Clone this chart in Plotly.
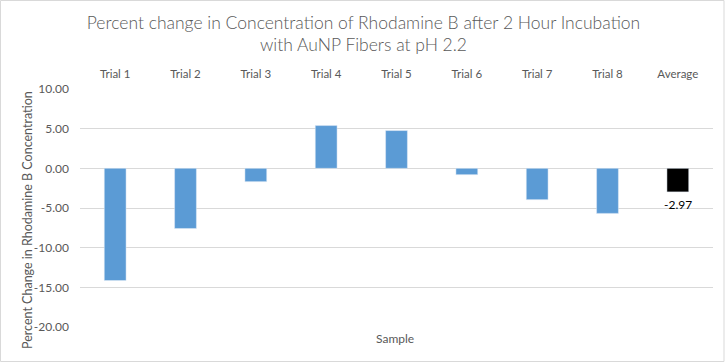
import plotly.graph_objects as go

categories = ["Trial 1", "Trial 2", "Trial 3", "Trial 4", "Trial 5", "Trial 6", "Trial 7", "Trial 8"]
trial_values = [-14.14, -7.58, -1.68, 5.39, 4.76, -0.80, -3.95, -5.68]
avg_category = ["Average"]
avg_value = [-2.97]
avg_label = ["-2.97"]
y_ticks = [10, 5, 0, -5, -10, -15, -20]
y_tick_text = ["10.00", "5.00", "0.00", "-5.00", "-10.00", "-15.00", "-20.00"]

FONT = "Lato"
GRAY = "#595959"

fig = go.Figure()
fig.add_trace(go.Bar(x=categories, y=trial_values, marker_color="#5b9bd5", width=0.31,
                     showlegend=False, hoverinfo="x+y"))
fig.add_trace(go.Bar(x=avg_category, y=avg_value, marker_color="#000000", width=0.31,
                     showlegend=False, hoverinfo="x+y"))

fig.update_layout(
    width=727, height=362,
    margin=dict(l=80, r=14, t=89, b=35, autoexpand=False),
    paper_bgcolor="white", plot_bgcolor="white",
    font=dict(family=FONT, color=GRAY, size=12),
    title=dict(text="Percent change in Concentration of Rhodamine B after 2 Hour Incubation<br>with AuNP Fibers at pH 2.2",
               x=0.5, xanchor="center", xref="container", y=1 - 28.5 / 362, yanchor="middle", yref="container",
               font=dict(family=FONT, size=17.5, color=GRAY, weight=300)),
    bargap=0.69,
    xaxis=dict(side="top", categoryorder="array", categoryarray=categories + avg_category,
               showgrid=False, showline=False, ticks="", automargin=False, ticklabelstandoff=8,
               tickfont=dict(size=11.5, color=GRAY)),
    yaxis=dict(range=[-20, 10], tickvals=y_ticks, ticktext=y_tick_text, showgrid=True,
               gridcolor="#d9d9d9", gridwidth=1, zeroline=False, showline=False, ticks="",
               automargin=False, ticklabelstandoff=10, tickfont=dict(size=12, color=GRAY)),
    annotations=[
        dict(text="Percent Change in Rhodamine B Concentration", textangle=-90,
             xref="paper", yref="paper", x=-53 / 633, y=(327 - 220) / 238,
             xanchor="center", yanchor="middle", showarrow=False,
             font=dict(family=FONT, size=12.5, color=GRAY)),
        dict(text="Sample", xref="paper", yref="paper", x=(395 - 80) / 633, y=(327 - 338) / 238,
             xanchor="center", yanchor="middle", showarrow=False,
             font=dict(family=FONT, size=12, color=GRAY)),
        dict(text=avg_label[0], x=avg_category[0], y=avg_value[0], xref="x", yref="y",
             yanchor="middle", yshift=-13, showarrow=False,
             font=dict(family=FONT, size=12, color="#000000")),
    ],
    shapes=[dict(type="rect", xref="paper", yref="paper", x0=-79.5 / 633, x1=1 + 11 / 633,
                 y0=-34.5 / 238, y1=1 + 88.5 / 238, line=dict(color="#d9d9d9", width=1))],
)

fig.write_html("out.html", config={"displayModeBar": False},
               post_script="document.body.style.margin='0';")
